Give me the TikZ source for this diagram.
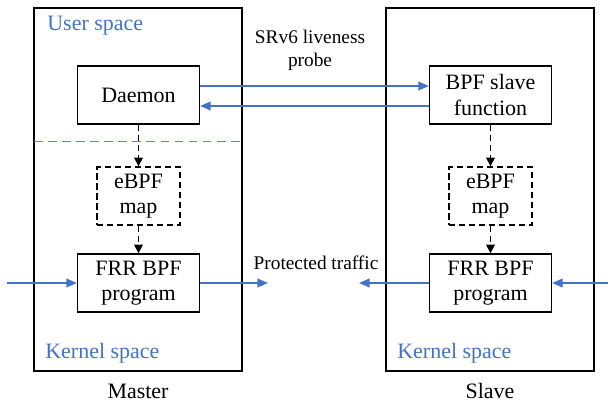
\documentclass[tikz,border=0pt]{standalone}
\usepackage{fontspec}
\setmainfont{Liberation Serif}
\newfontfamily\tnr{Liberation Serif}
\usetikzlibrary{arrows.meta}
\definecolor{kblue}{RGB}{68,114,196}
\definecolor{sepblue}{RGB}{112,128,190}

\begin{document}
\begin{tikzpicture}
[x=.02cm,y=-.02cm,font=\tnr\fontsize{12.5}{14.5}\selectfont]
\tikzset{host/.style={draw,line width=.9pt,minimum width=4.16cm,minimum height=7.26cm,inner sep=0}}
\tikzset{fbox/.style={draw,line width=.8pt,minimum width=2.44cm,minimum height=1.16cm,inner sep=0,align=center}}
\tikzset{mapbox/.style={fbox,dash pattern=on 3.5pt off 2.2pt,minimum width=1.66cm}}
\tikzset{area/.style={text=kblue,anchor=west,inner sep=0}}
\tikzset{flow/.style={draw=kblue,line width=.9pt,-{Triangle[length=6pt,width=5pt]}}}
\tikzset{ctrl/.style={line width=.9pt,dash pattern=on 3.5pt off 2.2pt,-{Triangle[length=5pt,width=5pt]}}}
\useasboundingbox (0,0) rectangle (608,402);
\node [host] (m) at (138,189.5) {};
\node [host] (s) at (490,189.5) {};
\node [area] (mu) at (47,26) {\tnr User space};
\node [area] (mk) at (45,353) {\tnr Kernel space};
\node [area] (sk) at (397,353) {\tnr Kernel space};
\node (ml) at (138,391) {\tnr Master};
\node (sl) at (490,391) {\tnr Slave};
\node [fbox] (d) at (138.5,95) {\tnr Daemon};
\node [mapbox] (m1) at (138.5,196) {\tnr eBPF\\\tnr map};
\node [fbox] (p1) at (138.5,283) {\tnr FRR BPF\\\tnr program};
\node [fbox] (f) at (490.5,95) {\tnr BPF slave\\\tnr function};
\node [mapbox] (m2) at (490.5,196) {\tnr eBPF\\\tnr map};
\node [fbox] (p2) at (490.5,283) {\tnr FRR BPF\\\tnr program};
\node [align=center,font=\fontsize{11}{13}\selectfont] (pr) at (310,50) {\tnr SRv6 liveness\\\tnr probe};
\node [font=\fontsize{11}{13}\selectfont] (pt) at (316,263) {\tnr Protected traffic};
\coordinate (i1) at (7,283);
\coordinate (o1) at (268,283);
\coordinate (i2) at (608,283);
\coordinate (o2) at (359,283);
\coordinate (u1) at (34,141);
\coordinate (u2) at (242,141);

\draw [sepblue,line width=.5pt,dash pattern=on 5pt off 3pt] (u1) -- (u2);
\draw [flow] ([yshift=.18cm]d.east) -- ([yshift=.18cm]f.west);
\draw [flow] ([yshift=-.22cm]f.west) -- ([yshift=-.22cm]d.east);
\foreach \from/\to in {i1/p1,p1/o1,i2/p2,p2/o2}
	\draw [flow] (\from) -- (\to);
\foreach \from/\to in {d/m1,m1/p1,f/m2,m2/p2}
	\draw [ctrl] (\from) -- (\to);
\end{tikzpicture}
\end{document}
